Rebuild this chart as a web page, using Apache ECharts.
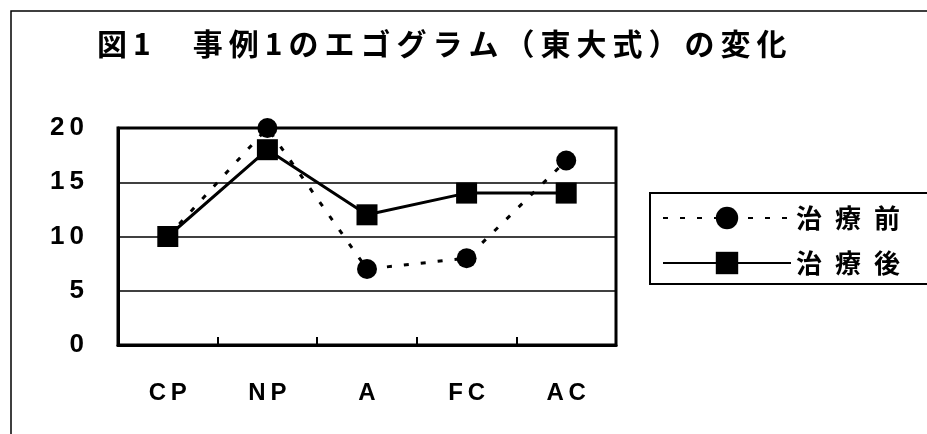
<!DOCTYPE html>
<html>
<head>
<meta charset="utf-8">
<script src="https://cdn.jsdelivr.net/npm/echarts@6/dist/echarts.min.js"></script>
<style>
html,body{margin:0;padding:0;background:#fff;}
#chart{width:927px;height:434px;}
</style>
</head>
<body>
<div id="chart"></div>
<script>
const titleText = '図1　事例1のエゴグラム（東大式）の変化';
const categories = ['CP', 'NP', 'A', 'FC', 'AC'];
const seriesNames = ['治療前', '治療後'];
const beforeValues = [10, 20, 7, 8, 17];
const afterValues = [10, 18, 12, 14, 14];
const yTicks = [0, 5, 10, 15, 20];

const spaced = (s, sep) => String(s).split('').join(sep);

const chart = echarts.init(document.getElementById('chart'), null, {renderer: 'canvas'});
chart.setOption({
  backgroundColor: '#ffffff',
  animation: false,
  title: {
    text: spaced(titleText, '\u2009'),
    left: 97,
    top: 29,
    padding: 0,
    textStyle: {
      fontFamily: '"Noto Sans CJK JP", sans-serif',
      fontSize: 30,
      fontWeight: 'bold',
      color: '#000'
    }
  },
  graphic: [
    {
      type: 'rect',
      shape: {x: 11, y: 11, width: 1200, height: 1200},
      style: {fill: 'none', stroke: '#000', lineWidth: 1.5},
      z: 1
    },
    {
      type: 'rect',
      shape: {x: 650, y: 193, width: 400, height: 91},
      style: {fill: 'none', stroke: '#000', lineWidth: 2},
      z: 1
    }
  ],
  legend: {
    orient: 'vertical',
    left: 662,
    top: 204,
    padding: 0,
    itemWidth: 128,
    itemHeight: 28,
    itemGap: 17,
    data: seriesNames,
    formatter: n => spaced(n, '\u2002'),
    textStyle: {
      fontFamily: '"Noto Sans CJK JP", sans-serif',
      fontSize: 26,
      fontWeight: 'bold',
      color: '#000',
      lineHeight: 28
    }
  },
  grid: {
    left: 118,
    right: 311,
    top: 128,
    bottom: 89,
    show: true,
    borderColor: '#000',
    borderWidth: 3,
    backgroundColor: 'transparent'
  },
  xAxis: {
    type: 'category',
    data: categories,
    boundaryGap: true,
    axisLine: {show: true, lineStyle: {color: '#000', width: 3}},
    axisTick: {show: true, inside: true, length: 8, lineStyle: {color: '#000', width: 2}},
    axisLabel: {
      margin: 36,
      fontFamily: '"Liberation Sans", Arial, sans-serif',
      fontSize: 24,
      fontWeight: 'bold',
      color: '#000',
      formatter: v => spaced(v, '\u2009')
    }
  },
  yAxis: {
    type: 'value',
    min: yTicks[0],
    max: yTicks[yTicks.length - 1],
    interval: 5,
    axisLine: {show: true, lineStyle: {color: '#000', width: 3}},
    axisTick: {show: false},
    splitLine: {show: true, lineStyle: {color: '#000', width: 1.5}},
    axisLabel: {
      margin: 34,
      fontFamily: '"Liberation Sans", Arial, sans-serif',
      fontSize: 26,
      fontWeight: 'bold',
      color: '#000',
      formatter: v => spaced(v, '\u2009')
    }
  },
  series: [
    {
      name: seriesNames[0],
      type: 'line',
      data: beforeValues,
      symbol: 'circle',
      symbolSize: 20,
      itemStyle: {color: '#000'},
      lineStyle: {color: '#000', width: 3, type: [5, 12]},
      z: 3
    },
    {
      name: seriesNames[1],
      type: 'line',
      data: afterValues,
      symbol: 'rect',
      symbolSize: 21,
      itemStyle: {color: '#000'},
      lineStyle: {color: '#000', width: 3, type: 'solid'},
      z: 4
    }
  ]
});
</script>
</body>
</html>
